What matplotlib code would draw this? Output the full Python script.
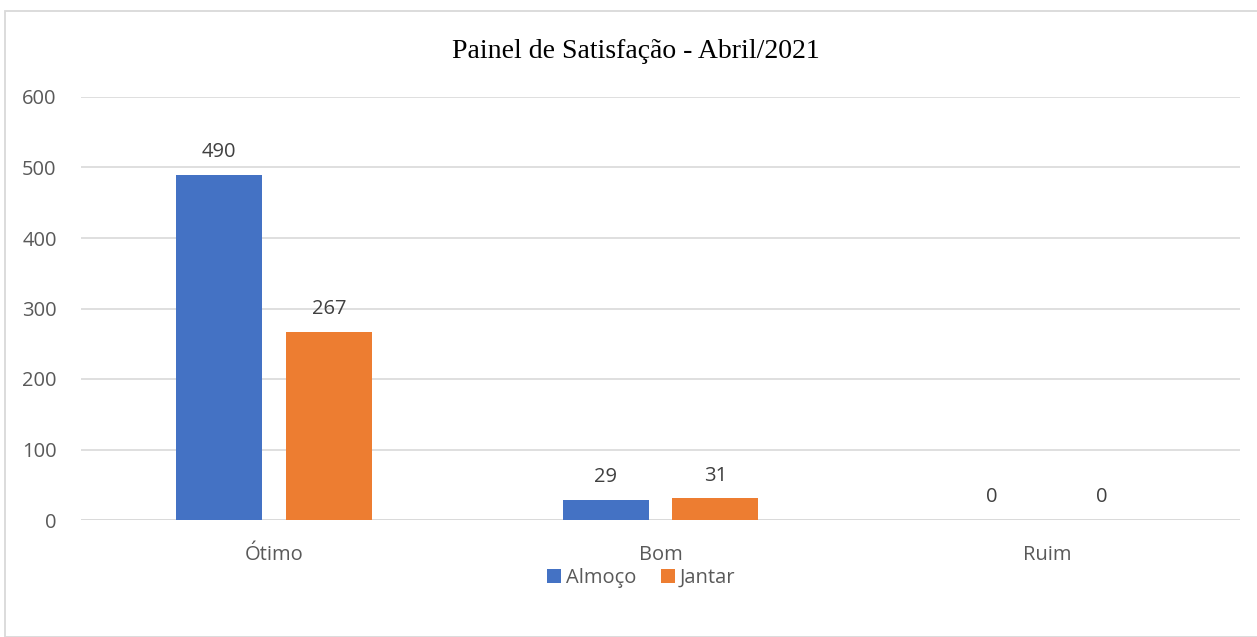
import matplotlib
matplotlib.use("Agg")
import matplotlib.pyplot as plt
import numpy as np
from matplotlib.patches import Rectangle

categories = ["Ótimo", "Bom", "Ruim"]
almoco = [490, 29, 0]
jantar = [267, 31, 0]
series_names = ["Almoço", "Jantar"]
yticks = [0, 100, 200, 300, 400, 500, 600]
title = "Painel de Satisfação - Abril/2021"

blue = "#4472C4"
orange = "#ED7D31"
txt = "#595959"
fs = 14.5
W, H = 1257, 637
fig = plt.figure(figsize=(W / 100, H / 100), dpi=100)
fig.patch.set_facecolor("white")

# chart border
fig.add_artist(Rectangle((4.5 / W, 0.5 / H), (W + 10) / W, (H - 11.5) / H,
                         transform=fig.transFigure, fill=False,
                         edgecolor="#D9D9D9", linewidth=1.3))

left, right = 81 / W, 1240 / W
bottom, top = 1 - 520 / H, 1 - 97 / H
ax = fig.add_axes([left, bottom, right - left, top - bottom])
x = np.arange(len(categories))
bw = 0.223
off = 0.142
b1 = ax.bar(x - off, almoco, bw, color=blue, label=series_names[0], zorder=3)
b2 = ax.bar(x + off, jantar, bw, color=orange, label=series_names[1], zorder=3)
ax.set_xlim(-0.5, 2.5)
ax.set_ylim(0, 600)
ax.set_yticks(yticks)
ax.grid(axis="y", color="#D9D9D9", linewidth=1.2, zorder=0)
for s in ax.spines.values():
    s.set_visible(False)
ax.axhline(0, color="#D9D9D9", linewidth=1.2, zorder=2)
ax.tick_params(axis="both", length=0, labelsize=fs, colors=txt, labelfontfamily="Open Sans")
ax.tick_params(axis="y", pad=17.5)
ax.tick_params(axis="x", pad=18)
ax.set_xticks(x)
ax.set_xticklabels(categories)
for bars in (b1, b2):
    for r in bars:
        ax.annotate(f"{int(r.get_height())}", (r.get_x() + r.get_width() / 2, r.get_height()),
                    xytext=(0, 9), textcoords="offset points", ha="center", va="bottom",
                    fontsize=fs, color="#404040", family="Open Sans")

fig.text(636 / W, 1 - 52 / H, title, ha="center", va="center",
         fontsize=20, family="Liberation Serif", color="black")

leg = fig.legend(handles=[b1, b2], labels=series_names, loc="center",
                 bbox_to_anchor=(641 / W, 1 - 578 / H), ncol=2, frameon=False,
                 prop={"family": "Open Sans", "size": fs}, handlelength=0.7,
                 handleheight=0.7, handletextpad=0.25, columnspacing=1.2)
for t in leg.get_texts():
    t.set_color(txt)

fig.savefig("out.png", dpi=100)
